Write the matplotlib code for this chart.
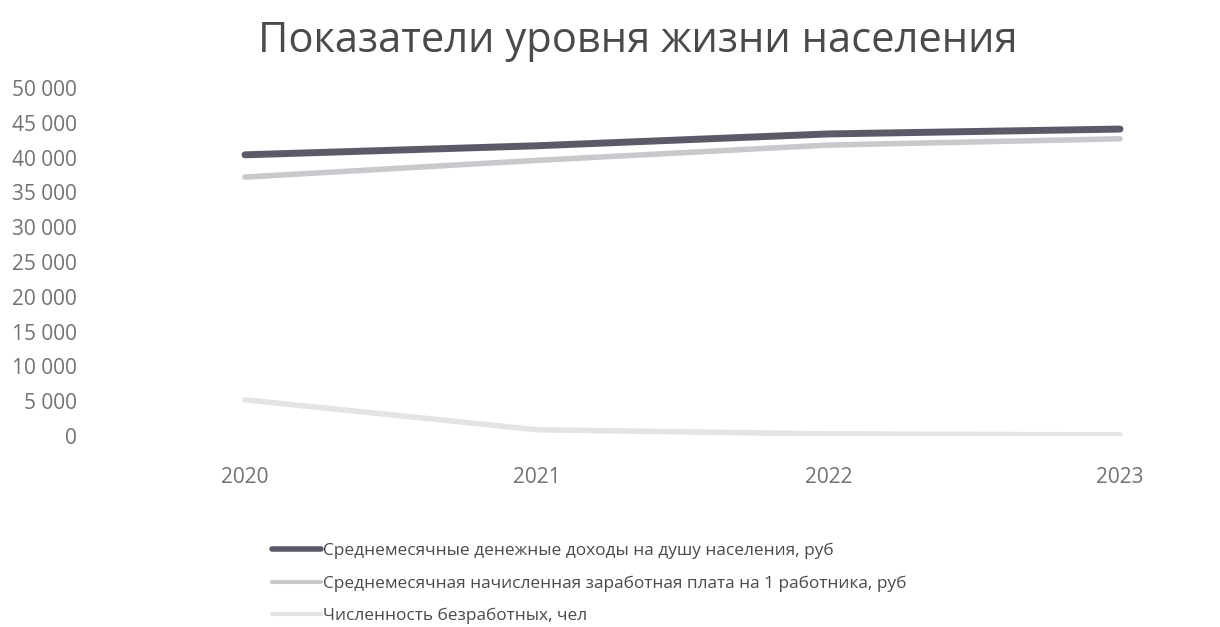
import matplotlib
matplotlib.use("Agg")
import matplotlib.pyplot as plt
from matplotlib.ticker import FuncFormatter

years = ["2020", "2021", "2022", "2023"]
income = [40400, 41700, 43400, 44100]
salary = [37200, 39600, 41800, 42700]
unemployed = [5200, 900, 300, 150]

labels = [
    "Среднемесячные денежные доходы на душу населения, руб",
    "Среднемесячная начисленная заработная плата на 1 работника, руб",
    "Численность безработных, чел",
]

plt.rcParams["font.family"] = ["Open Sans", "DejaVu Sans"]

fig = plt.figure(figsize=(12.2, 6.27), dpi=100)
ax = fig.add_axes([85 / 1220, (627 - 436) / 627, (1160 - 85) / 1220, (436 - 88) / 627])

x = range(len(years))
ax.plot(x, income, color="#5c5a68", linewidth=5, solid_capstyle="round", label=labels[0])
ax.plot(x, salary, color="#c9c8cc", linewidth=4, solid_capstyle="round", label=labels[1])
ax.plot(x, unemployed, color="#e4e4e6", linewidth=4, solid_capstyle="round", label=labels[2])

ax.set_xlim(-160 / 291.7, 3 + 40 / 291.7)
ax.set_ylim(0, 50000)
ax.set_yticks(range(0, 50001, 5000))
ax.yaxis.set_major_formatter(FuncFormatter(lambda v, p: f"{int(v):,}".replace(",", " ")))
ax.set_xticks(list(x))
ax.set_xticklabels(years)
ax.tick_params(axis="both", length=0, labelsize=15, colors="#727272")
ax.tick_params(axis="x", pad=22)
ax.tick_params(axis="y", pad=6)
for s in ax.spines.values():
    s.set_visible(False)

fig.text(0.523, 0.935, "Показатели уровня жизни населения", ha="center", va="center",
         fontsize=30, color="#4a4a4a")

leg = ax.legend(loc="upper left", bbox_to_anchor=(256 / 1220, 1 - 527 / 627),
                bbox_transform=fig.transFigure, frameon=False, fontsize=12.4,
                handlelength=2.9, handletextpad=0.1, labelspacing=0.95, labelcolor="#4a4a4a")
for line, lw in zip(leg.get_lines(), [4, 3, 3]):
    line.set_linewidth(lw)

fig.savefig("out.png", dpi=100)
